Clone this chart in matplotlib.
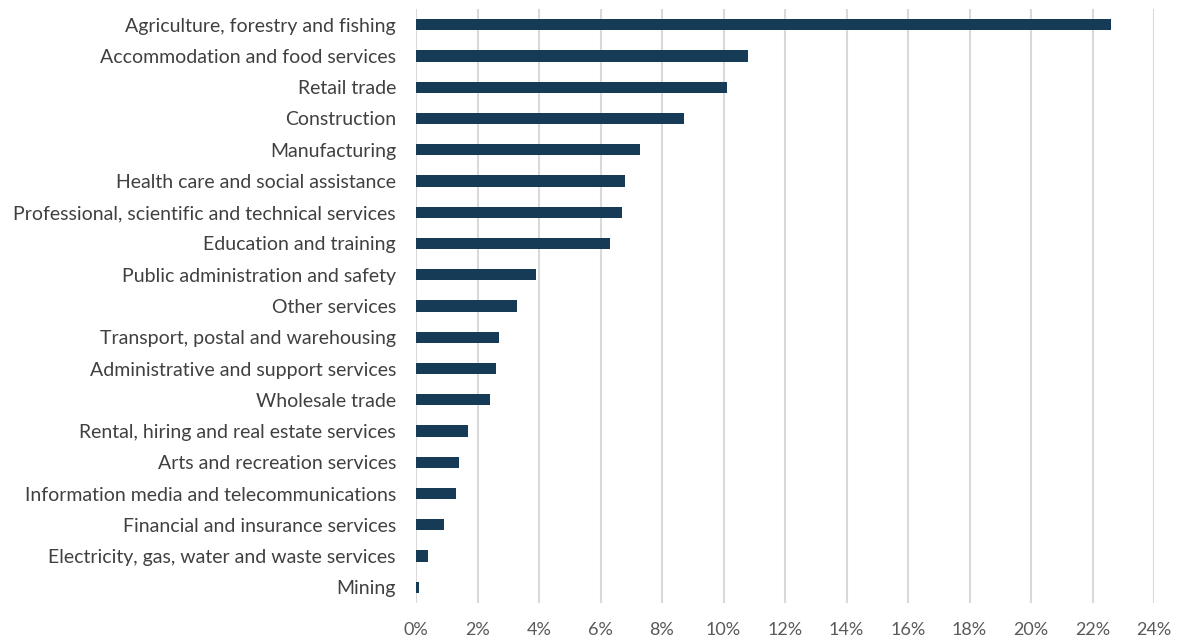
import matplotlib
matplotlib.use("Agg")
import matplotlib.pyplot as plt
from matplotlib.ticker import FuncFormatter

categories = [
    "Agriculture, forestry and fishing",
    "Accommodation and food services",
    "Retail trade",
    "Construction",
    "Manufacturing",
    "Health care and social assistance",
    "Professional, scientific and technical services",
    "Education and training",
    "Public administration and safety",
    "Other services",
    "Transport, postal and warehousing",
    "Administrative and support services",
    "Wholesale trade",
    "Rental, hiring and real estate services",
    "Arts and recreation services",
    "Information media and telecommunications",
    "Financial and insurance services",
    "Electricity, gas, water and waste services",
    "Mining",
]
values = [22.6, 10.8, 10.1, 8.7, 7.3, 6.8, 6.7, 6.3, 3.9, 3.3, 2.7, 2.6, 2.4, 1.7, 1.4, 1.3, 0.9, 0.4, 0.1]
xticks = list(range(0, 25, 2))

plt.rcParams['font.family'] = ['Lato', 'DejaVu Sans']

fig = plt.figure(figsize=(11.8, 6.42), dpi=100)
ax = fig.add_axes([416/1180, 1-603/642, (1154-416)/1180, (603-9)/642])

ypos = list(range(len(categories)))
ax.barh(ypos, values, height=0.36, color="#163B56", zorder=3)
ax.set_ylim(len(categories)-0.5, -0.5)
ax.set_xlim(0, 24)
ax.set_yticks(ypos)
ax.set_yticklabels(categories, fontsize=14, color="#404040")
ax.set_xticks(xticks)
ax.xaxis.set_major_formatter(FuncFormatter(lambda v, p: f"{int(v)}%"))
ax.tick_params(axis='x', labelsize=13, labelcolor="#595959", length=0, pad=14)
ax.tick_params(axis='y', length=0, pad=14.4)
ax.grid(axis='x', color="#D9D9D9", linewidth=1.5, zorder=0)
for s in ax.spines.values():
    s.set_visible(False)

fig.savefig("out.png", dpi=100)
